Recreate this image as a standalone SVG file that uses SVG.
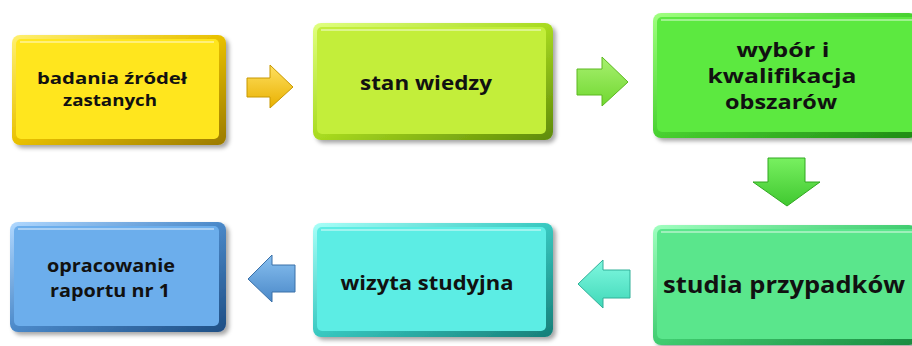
<svg xmlns="http://www.w3.org/2000/svg" width="912" height="346" viewBox="0 0 912 346">
<style>
.t{font-family:"Open Sans","Noto Sans","Liberation Sans",sans-serif;font-weight:700;fill:#111;text-anchor:middle}
.hl{fill:none;stroke:#fff;stroke-opacity:.55;stroke-width:1.5}
.arr{stroke-width:1;stroke-linejoin:miter}
</style>
<defs>
<filter id="sh" x="-10%" y="-10%" width="125%" height="130%"><feDropShadow dx="3" dy="3" stdDeviation="2" flood-color="#000" flood-opacity=".35"/></filter>
<linearGradient id="gY" x1="0" y1="0" x2="1" y2="1"><stop offset="0" stop-color="#FFF070"/><stop offset=".5" stop-color="#E8C000"/><stop offset="1" stop-color="#9A7A00"/></linearGradient>
<linearGradient id="gL" x1="0" y1="0" x2="1" y2="1"><stop offset="0" stop-color="#E0FF80"/><stop offset=".5" stop-color="#A8DA20"/><stop offset="1" stop-color="#5E8A08"/></linearGradient>
<linearGradient id="gG" x1="0" y1="0" x2="1" y2="1"><stop offset="0" stop-color="#A0FF80"/><stop offset=".5" stop-color="#48D030"/><stop offset="1" stop-color="#1E8A14"/></linearGradient>
<linearGradient id="gS" x1="0" y1="0" x2="1" y2="1"><stop offset="0" stop-color="#A0FFC0"/><stop offset=".5" stop-color="#40CC70"/><stop offset="1" stop-color="#1A8A40"/></linearGradient>
<linearGradient id="gT" x1="0" y1="0" x2="1" y2="1"><stop offset="0" stop-color="#A8FFF8"/><stop offset=".5" stop-color="#38C8C0"/><stop offset="1" stop-color="#167E78"/></linearGradient>
<linearGradient id="gB" x1="0" y1="0" x2="1" y2="1"><stop offset="0" stop-color="#B0D8FF"/><stop offset=".5" stop-color="#4A88C8"/><stop offset="1" stop-color="#1E4E84"/></linearGradient>
<linearGradient id="aY" x1="0" y1="0" x2="0" y2="1"><stop offset="0" stop-color="#FFE060"/><stop offset="1" stop-color="#E8B000"/></linearGradient>
<linearGradient id="aL" x1="0" y1="0" x2="0" y2="1"><stop offset="0" stop-color="#A8F070"/><stop offset="1" stop-color="#70D830"/></linearGradient>
<linearGradient id="aG" x1="0" y1="0" x2="0" y2="1"><stop offset="0" stop-color="#78F060"/><stop offset="1" stop-color="#40C830"/></linearGradient>
<linearGradient id="aT" x1="0" y1="0" x2="0" y2="1"><stop offset="0" stop-color="#80F8E0"/><stop offset="1" stop-color="#40D8B8"/></linearGradient>
<linearGradient id="aB" x1="0" y1="0" x2="0" y2="1"><stop offset="0" stop-color="#88C0F0"/><stop offset="1" stop-color="#4A88C8"/></linearGradient>
</defs>
<rect width="912" height="346" fill="#fff"/>

<g id="n1">
<rect x="12" y="35" width="214" height="110" rx="8" fill="url(#gY)" filter="url(#sh)"/>
<rect x="16" y="39" width="203" height="100" rx="5" fill="#FFE61E"/>
<path class="hl" d="M20 42 H214"/>
<text class="t" x="112" y="84" font-size="16" textLength="150" lengthAdjust="spacingAndGlyphs">badania źródeł</text>
<text class="t" x="110" y="106" font-size="16" textLength="94" lengthAdjust="spacingAndGlyphs">zastanych</text>
</g>

<g id="n2">
<rect x="313" y="23" width="240" height="117" rx="8" fill="url(#gL)" filter="url(#sh)"/>
<rect x="317" y="27" width="229" height="107" rx="5" fill="#C3EE3A"/>
<path class="hl" d="M321 30 H541"/>
<text class="t" x="426" y="90" font-size="20" textLength="132" lengthAdjust="spacingAndGlyphs">stan wiedzy</text>
</g>

<g id="n3">
<rect x="653" y="13" width="264" height="125" rx="8" fill="url(#gG)" filter="url(#sh)"/>
<rect x="657" y="17" width="260" height="115" rx="5" fill="#5CE940"/>
<path class="hl" d="M661 20 H912"/>
<text class="t" x="783" y="57" font-size="19" textLength="93" lengthAdjust="spacingAndGlyphs">wybór i</text>
<text class="t" x="782" y="83" font-size="19" textLength="149" lengthAdjust="spacingAndGlyphs">kwalifikacja</text>
<text class="t" x="781" y="109" font-size="19" textLength="112" lengthAdjust="spacingAndGlyphs">obszarów</text>
</g>

<g id="n4">
<rect x="10" y="222" width="216" height="110" rx="8" fill="url(#gB)" filter="url(#sh)"/>
<rect x="14" y="226" width="205" height="100" rx="5" fill="#6CAEEC"/>
<path class="hl" d="M18 229 H214"/>
<text class="t" x="111" y="272" font-size="18" textLength="128" lengthAdjust="spacingAndGlyphs">opracowanie</text>
<text class="t" x="110" y="297" font-size="18" textLength="120" lengthAdjust="spacingAndGlyphs">raportu nr 1</text>
</g>

<g id="n5">
<rect x="313" y="223" width="240" height="114" rx="8" fill="url(#gT)" filter="url(#sh)"/>
<rect x="317" y="227" width="229" height="104" rx="5" fill="#5CEDE4"/>
<path class="hl" d="M321 230 H541"/>
<text class="t" x="427" y="290" font-size="20" textLength="173" lengthAdjust="spacingAndGlyphs">wizyta studyjna</text>
</g>

<g id="n6">
<rect x="653" y="225" width="264" height="120" rx="8" fill="url(#gS)" filter="url(#sh)"/>
<rect x="657" y="229" width="260" height="110" rx="5" fill="#5AE68C"/>
<path class="hl" d="M661 232 H912"/>
<text class="t" x="784" y="293" font-size="23" textLength="242" lengthAdjust="spacingAndGlyphs">studia przypadków</text>
</g>

<g id="connectors">
<polygon class="arr" points="247,78 270,78 270,65 293,87 270,108 270,97 247,97" fill="url(#aY)" stroke="#C89800"/>
<polygon class="arr" points="577,69 602,69 602,57 628,82 602,106 602,95 577,95" fill="url(#aL)" stroke="#5CB820"/>
<polygon class="arr" points="768,158 805,158 805,182 820,182 787,206 753,182 768,182" fill="url(#aG)" stroke="#30A820"/>
<polygon class="arr" points="630,270 603,270 603,260 578,284 603,308 603,298 630,298" fill="url(#aT)" stroke="#30B098"/>
<polygon class="arr" points="295,265 272,265 272,255 248,279 272,302 272,292 295,292" fill="url(#aB)" stroke="#3A70A8"/>
</g>
</svg>
